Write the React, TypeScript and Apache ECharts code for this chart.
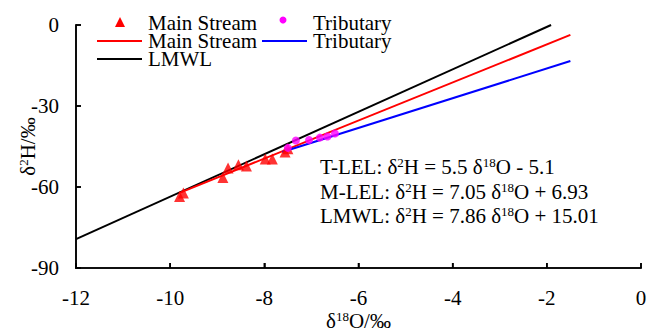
import React, { useEffect, useRef } from "react";
import * as echarts from "echarts";

const FONT = "'Liberation Serif', 'Times New Roman', serif";

const mainStreamPoints: [number, number][] = [
  [-9.8, -63.5],
  [-9.72, -62.2],
  [-8.88, -56.5],
  [-8.77, -53.0],
  [-8.55, -51.8],
  [-8.38, -52.2],
  [-7.98, -49.6],
  [-7.83, -49.6],
  [-7.56, -47.0],
  [-7.5, -45.8],
];

const tributaryPoints: [number, number][] = [
  [-7.5, -45.5],
  [-7.33, -42.8],
  [-7.05, -42.6],
  [-6.82, -41.7],
  [-6.66, -41.3],
  [-6.5, -40.2],
];

// regression line end points (δ18O, δ2H)
const mainStreamLine: [number, number][] = [
  [-9.8, -62.16],
  [-1.5, -3.65],
];
const tributaryLine: [number, number][] = [
  [-7.62, -47.01],
  [-1.5, -13.35],
];
const lmwlLine: [number, number][] = [
  [-12, -79.31],
  [-1.91, 0],
];

const xTicks = { min: -12, max: 0, interval: 2 };
const yTicks = { min: -90, max: 0, interval: 30 };
const xTickValues = [-12, -10, -8, -6, -4, -2, 0];
const yTickValues = [-90, -60, -30, 0];

const equations: string[][] = [
  ["T-LEL: δ", "2", "H = 5.5 δ", "18", "O - 5.1"],
  ["M-LEL: δ", "2", "H = 7.05 δ", "18", "O + 6.93"],
  ["LMWL: δ", "2", "H = 7.86 δ", "18", "O + 15.01"],
];

const RED = "#FF0000";
const BLUE = "#0000FF";
const MAGENTA = "#FF00FF";
const BLACK = "#000000";
const FS = 21;
const W_PAGE = 659;
const H_PAGE = 332;
const GRID = { left: 76, right: 18, top: 25, bottom: 64 };

export default function App() {
  const ref = useRef<HTMLDivElement>(null);
  useEffect(() => {
    if (!ref.current) return;
    const chart = echarts.init(ref.current, undefined, { renderer: "svg" });
    const richMain = {
      a: { fontSize: FS, fontFamily: FONT, color: BLACK, lineHeight: 22 },
      s: { fontSize: 13, fontFamily: FONT, color: BLACK, lineHeight: 12, verticalAlign: "top" as const },
    };
    const eqGraphics = equations.map((parts, i) => ({
      type: "text",
      x: 320,
      y: 167 + i * 24.5,
      style: {
        text: `{a|${parts[0]}}{s|${parts[1]}}{a|${parts[2]}}{s|${parts[3]}}{a|${parts[4]}}`,
        rich: richMain,
        textVerticalAlign: "middle",
      },
    }));
    const legendText = (x: number, y: number, t: string) => ({
      type: "text",
      x,
      y,
      style: {
        text: t,
        font: `${FS}px ${FONT}`,
        fill: BLACK,
        textVerticalAlign: "middle",
        lineHeight: 17,
      },
    });
    const legendLine = (x1: number, x2: number, y: number, c: string) => ({
      type: "line",
      shape: { x1, y1: y, x2, y2: y },
      style: { stroke: c, lineWidth: 2 },
    });

    // axis frame from the grid box; tick positions from the tick values
    const gx0 = GRID.left;
    const gx1 = W_PAGE - GRID.right;
    const gy0 = GRID.top;
    const gy1 = H_PAGE - GRID.bottom;
    const xScale = (v: number) => gx0 + ((v - xTicks.min) / (xTicks.max - xTicks.min)) * (gx1 - gx0);
    const yScale = (v: number) => gy1 - ((v - yTicks.min) / (yTicks.max - yTicks.min)) * (gy1 - gy0);
    const T = 1.6;
    const fill = { fill: BLACK };
    const axisGraphics: any[] = [
      { type: "rect", shape: { x: gx0 - T / 2, y: gy1 - T / 2, width: gx1 - gx0 + T, height: T }, style: fill },
      { type: "rect", shape: { x: gx0 - T / 2, y: gy0 - T / 2, width: T, height: gy1 - gy0 + T }, style: fill },
      ...xTickValues.map((v) => ({
        type: "rect",
        shape: { x: xScale(v) - T / 2, y: gy1 - 5, width: T, height: 5 },
        style: fill,
      })),
      ...yTickValues.map((v) => ({
        type: "rect",
        shape: { x: gx0, y: yScale(v) - T / 2, width: 5, height: T },
        style: fill,
      })),
    ];

    chart.setOption({
      animation: false,
      grid: { ...GRID, containLabel: false, outerBoundsMode: "none" },
      xAxis: {
        type: "value",
        position: "bottom",
        min: xTicks.min,
        max: xTicks.max,
        interval: xTicks.interval,
        name: "{a|δ}{s|18}{a|O/‰}",
        nameLocation: "middle",
        nameGap: 42,
        nameMoveOverlap: false,
        nameTextStyle: { rich: richMain },
        axisLine: { show: true, onZero: false, lineStyle: { color: BLACK, width: 1.5 } },
        axisTick: { show: true, inside: true, length: 5, lineStyle: { color: BLACK, width: 1.5 } },
        axisLabel: { color: BLACK, fontSize: FS, fontFamily: FONT, margin: 19 },
        splitLine: { show: false },
      },
      yAxis: {
        type: "value",
        position: "left",
        min: yTicks.min,
        max: yTicks.max,
        interval: yTicks.interval,
        name: "{a|δ}{s|2}{a|H/‰}",
        nameLocation: "middle",
        nameGap: 37,
        nameMoveOverlap: false,
        nameTextStyle: { rich: richMain },
        axisLine: { show: true, onZero: false, lineStyle: { color: BLACK, width: 1.5 } },
        axisTick: { show: true, inside: true, length: 5, lineStyle: { color: BLACK, width: 1.5 } },
        axisLabel: { color: BLACK, fontSize: FS, fontFamily: FONT, margin: 17 },
        splitLine: { show: false },
      },
      series: [
        {
          name: "LMWL",
          type: "line",
          data: lmwlLine,
          showSymbol: false,
          lineStyle: { color: BLACK, width: 2 },
          z: 1,
        },
        {
          name: "Main Stream line",
          type: "line",
          data: mainStreamLine,
          showSymbol: false,
          lineStyle: { color: RED, width: 2 },
          z: 2,
        },
        {
          name: "Tributary line",
          type: "line",
          data: tributaryLine,
          showSymbol: false,
          lineStyle: { color: BLUE, width: 2 },
          z: 2,
        },
        {
          name: "Main Stream",
          type: "scatter",
          data: mainStreamPoints,
          symbol: "triangle",
          symbolSize: 11,
          itemStyle: { color: RED },
          z: 3,
        },
        {
          name: "Tributary",
          type: "scatter",
          data: tributaryPoints,
          symbol: "circle",
          symbolSize: 8,
          itemStyle: { color: MAGENTA },
          z: 3,
        },
      ],
      graphic: [
        ...axisGraphics,
        {
          type: "polygon",
          shape: { points: [[120, 17], [125, 27], [115, 27]] },
          style: { fill: RED },
        },
        legendText(148, 23, "Main Stream"),
        { type: "circle", shape: { cx: 283, cy: 20, r: 3.5 }, style: { fill: MAGENTA } },
        legendText(313, 23, "Tributary"),
        legendLine(97, 142, 41, RED),
        legendText(148, 41, "Main Stream"),
        legendLine(262, 307, 41, BLUE),
        legendText(313, 41, "Tributary"),
        legendLine(97, 142, 59, BLACK),
        legendText(148, 59, "LMWL"),
        ...eqGraphics,
      ],
    });
    return () => chart.dispose();
  }, []);
  return (
    <div
      ref={ref}
      style={{ position: "fixed", left: 0, top: 0, width: W_PAGE, height: H_PAGE, background: "#fff" }}
    />
  );
}
